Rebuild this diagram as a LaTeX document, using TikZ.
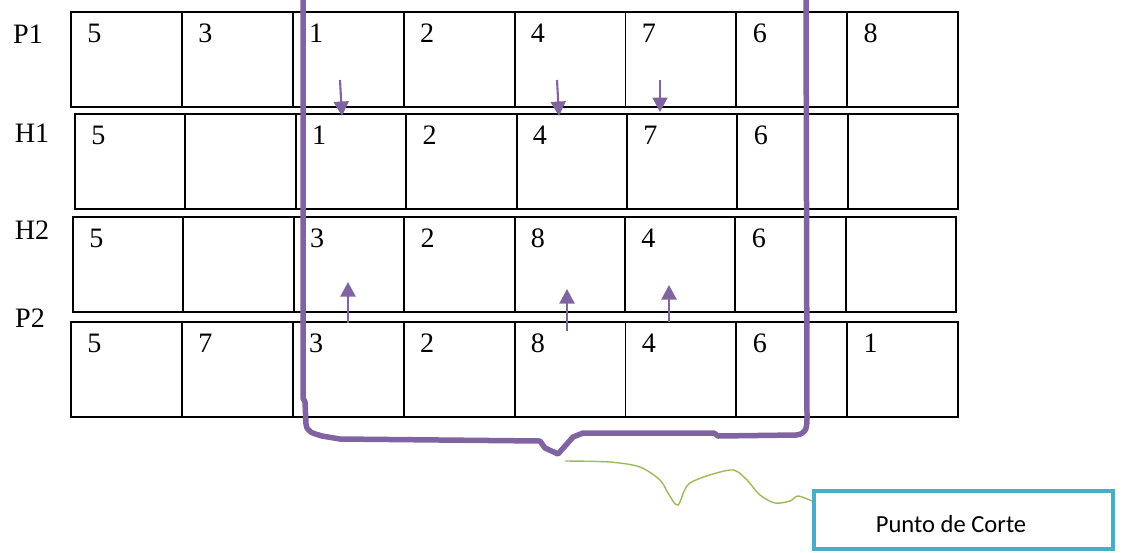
\documentclass[tikz,border=0pt]{standalone}
\usepackage{fontspec}
\setmainfont{Liberation Serif}
\newfontfamily\calibri{Carlito}
\usetikzlibrary{calc,arrows.meta}
\definecolor{cortepurple}{HTML}{8064A2}
\definecolor{leadgreen}{HTML}{9BBB59}
\definecolor{boxcyan}{HTML}{4BACC6}
\tikzset{
	cell/.style={draw, line width=1.1pt, minimum height=1.9cm, inner sep=0pt, outer sep=0pt, anchor=north west},
	gene/.style={font=\fontsize{16}{16}\selectfont, inner sep=0pt, anchor=base west},
	tag/.style={font=\fontsize{16}{16}\selectfont, inner sep=0pt},
	swap/.style={draw=cortepurple, line width=1.2pt, -{Triangle[length=0.29cm, width=0.3cm]}},
}
\begin{document}
\begin{tikzpicture}[x=0.02cm, y=-0.02cm]
	\useasboundingbox (0, 0) rectangle (1125, 552);
	% chromosomes
	\foreach \row/\lx/\ty/\w/\genes in {P1/71/12/110.9/{5,3,1,2,4,7,6,8}, H1/75/114/110.4/{5,{},1,2,4,7,6,{}}, H2/73/217/110.4/{5,{},3,2,8,4,6,{}}, P2/71/322/110.9/{5,7,3,2,8,4,6,1}}{
		\foreach \g [count=\i] in \genes {
			\node[cell, minimum width=\w*0.02cm] (\row-\i) at ({\lx+(\i-1)*\w}, \ty) {};
			\node[gene] (\row-\i-g) at ($(\row-\i.north west)+(16, 30)$) {\g};
		}
	}
	\node[tag] (lblP1) at (28, 34) {P1};
	\node[tag] (lblH1) at (32, 133) {H1};
	\node[tag] (lblH2) at (32, 230) {H2};
	\node[tag] (lblP2) at (30, 318) {P2};
	% genes passed down / up
	\draw[swap] (340, 80) -- (342, 116);
	\draw[swap] (557, 80) -- (559, 116);
	\draw[swap] (660, 80) -- (660, 112);
	\draw[swap] (348, 323) -- (348, 282);
	\draw[swap] (567, 331) -- (567, 289);
	\draw[swap] (669, 322) -- (669, 285);
	% cut section
	\draw[cortepurple, line width=0.11cm, line join=round] (303, -5) -- (303, 398) -- (305, 402) -- (306, 424) .. controls (307, 432) and (312, 433) .. (322, 436) -- (340, 439) -- (540, 441) -- (545, 448) -- (558, 454) -- (573, 437) -- (583, 433) -- (714, 433) -- (718, 436) -- (796, 435) .. controls (805, 434) and (807, 430) .. (807, 418) -- (806, -5);
	\coordinate (tip) at (565, 461);
	\node[draw=boxcyan, line width=0.08cm, minimum width=5.98cm, minimum height=1.15cm] (corte) at (963.5, 520) {};
	\node[font=\calibri\fontsize{14}{14}\selectfont, inner sep=0pt] (cortetxt) at (951, 524) {Punto de Corte};
	\draw[leadgreen, line width=0.8pt] plot[smooth, tension=0.5] coordinates {(tip) (610, 462) (640, 467) (660, 480) (668, 493) (678, 505) (690, 483) (730, 470) (745, 478) (760, 495) (775, 503) (790, 501) (798, 496) (812, 501)};
\end{tikzpicture}
\end{document}
